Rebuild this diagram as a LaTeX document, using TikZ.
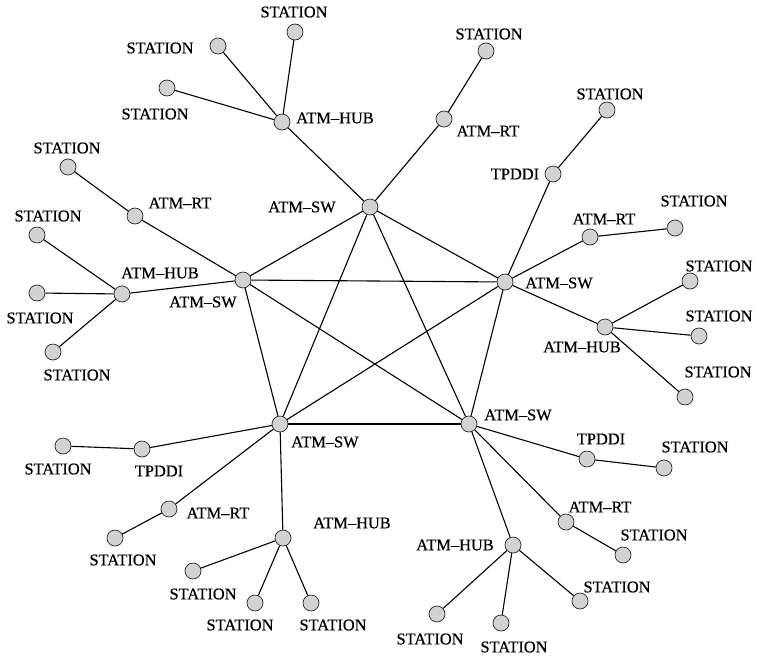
\documentclass[tikz,border=0pt]{standalone}
\usepackage{fontspec}
\setmainfont{Liberation Serif}
\newfontfamily\lblfont[FakeBold=0.6]{Liberation Serif}
\begin{document}
\begin{tikzpicture}[x=1pt,y=-1pt,
  dev/.style={circle,draw=black!85,fill=gray!35,minimum size=16pt,inner sep=0pt,line width=0.7pt},
  lbl/.style={font=\lblfont\fontsize{16.4}{18}\selectfont,inner sep=0pt,text=black},
  link/.style={line width=1.1pt,draw=black}]
\useasboundingbox (0,0) rectangle (757,656);
% switches
\node[dev] (s1) at (370,207) {};
\node[dev] (s2) at (243,280) {};
\node[dev] (s3) at (505,282) {};
\node[dev] (s4) at (280,424) {};
\node[dev] (s5) at (469,424) {};
% other devices
\node[dev] (h1) at (282,122) {};
\node[dev] (h1a) at (295,32) {};
\node[dev] (h1b) at (218,46) {};
\node[dev] (h1c) at (167,88) {};
\node[dev] (r1) at (135,216) {};
\node[dev] (r1a) at (68,167) {};
\node[dev] (h2) at (122,294) {};
\node[dev] (h2a) at (37,235) {};
\node[dev] (h2b) at (37,293) {};
\node[dev] (h2c) at (53,352) {};
\node[dev] (r2) at (444,119) {};
\node[dev] (r2a) at (486,51) {};
\node[dev] (t1) at (553,174) {};
\node[dev] (t1a) at (607,110) {};
\node[dev] (r3) at (590,237) {};
\node[dev] (r3a) at (675,228) {};
\node[dev] (h3) at (605,327) {};
\node[dev] (h3a) at (690,281) {};
\node[dev] (h3b) at (699,336) {};
\node[dev] (h3c) at (685,397) {};
\node[dev] (t2) at (587,459) {};
\node[dev] (t2a) at (664,468) {};
\node[dev] (r4) at (566,522) {};
\node[dev] (r4a) at (623,555) {};
\node[dev] (h4) at (513,545) {};
\node[dev] (h4a) at (580,601) {};
\node[dev] (h4b) at (501,623) {};
\node[dev] (h4c) at (437,614) {};
\node[dev] (t3) at (142,449) {};
\node[dev] (t3a) at (63,446) {};
\node[dev] (r5) at (169,509) {};
\node[dev] (r5a) at (115,538) {};
\node[dev] (h5) at (283,538) {};
\node[dev] (h5a) at (193,571) {};
\node[dev] (h5b) at (255,603) {};
\node[dev] (h5c) at (311,603) {};
% links
\foreach \a/\b in {s1/s2,s1/s3,s1/s4,s1/s5,s2/s3,s2/s4,s2/s5,s3/s4,s3/s5,s4/s5,
  s1/h1,h1/h1a,h1/h1b,h1/h1c,s2/r1,r1/r1a,s2/h2,h2/h2a,h2/h2b,h2/h2c,
  s1/r2,r2/r2a,s3/t1,t1/t1a,s3/r3,r3/r3a,s3/h3,h3/h3a,h3/h3b,h3/h3c,
  s5/t2,t2/t2a,s5/r4,r4/r4a,s5/h4,h4/h4a,h4/h4b,h4/h4c,
  s4/t3,t3/t3a,s4/r5,r5/r5a,s4/h5,h5/h5a,h5/h5b,h5/h5c}
  \draw[link] (\a) -- (\b);
% labels
\node[lbl] (l-h1a) at (294,12) {STATION};
\node[lbl] (l-h1b) at (160,48) {STATION};
\node[lbl] (l-h1c) at (155,114) {STATION};
\node[lbl] (l-h1) at (335,118) {ATM–HUB};
\node[lbl] (l-r1a) at (67,148) {STATION};
\node[lbl] (l-r1) at (180,203) {ATM–RT};
\node[lbl] (l-s1) at (302,207) {ATM–SW};
\node[lbl] (l-h2a) at (48,216) {STATION};
\node[lbl] (l-h2) at (160,273) {ATM–HUB};
\node[lbl] (l-s2) at (203,302) {ATM–SW};
\node[lbl] (l-h2b) at (40,318) {STATION};
\node[lbl] (l-h2c) at (77,375) {STATION};
\node[lbl] (l-r2a) at (489,34) {STATION};
\node[lbl] (l-r2) at (488,131) {ATM–RT};
\node[lbl] (l-t1a) at (610,94) {STATION};
\node[lbl] (l-t1) at (515,174) {TPDDI};
\node[lbl] (l-r3a) at (694,201) {STATION};
\node[lbl] (l-r3) at (604,219) {ATM–RT};
\node[lbl] (l-s3) at (559,283) {ATM–SW};
\node[lbl] (l-h3a) at (719,266) {STATION};
\node[lbl] (l-h3b) at (719,316) {STATION};
\node[lbl] (l-h3) at (582,347) {ATM–HUB};
\node[lbl] (l-h3c) at (718,372) {STATION};
\node[lbl] (l-s5) at (518,415) {ATM–SW};
\node[lbl] (l-t2) at (601,439) {TPDDI};
\node[lbl] (l-t2a) at (695,447) {STATION};
\node[lbl] (l-r4) at (600,507) {ATM–RT};
\node[lbl] (l-r4a) at (654,535) {STATION};
\node[lbl] (l-h4) at (455,545) {ATM–HUB};
\node[lbl] (l-h4a) at (617,587) {STATION};
\node[lbl] (l-h4c) at (430,639) {STATION};
\node[lbl] (l-h4b) at (514,647) {STATION};
\node[lbl] (l-s4) at (325,442) {ATM–SW};
\node[lbl] (l-t3a) at (58,469) {STATION};
\node[lbl] (l-t3) at (159,471) {TPDDI};
\node[lbl] (l-r5) at (218,513) {ATM–RT};
\node[lbl] (l-r5a) at (123,560) {STATION};
\node[lbl] (l-h5) at (352,523) {ATM–HUB};
\node[lbl] (l-h5a) at (203,594) {STATION};
\node[lbl] (l-h5b) at (240,625) {STATION};
\node[lbl] (l-h5c) at (333,625) {STATION};
\end{tikzpicture}
\end{document}
